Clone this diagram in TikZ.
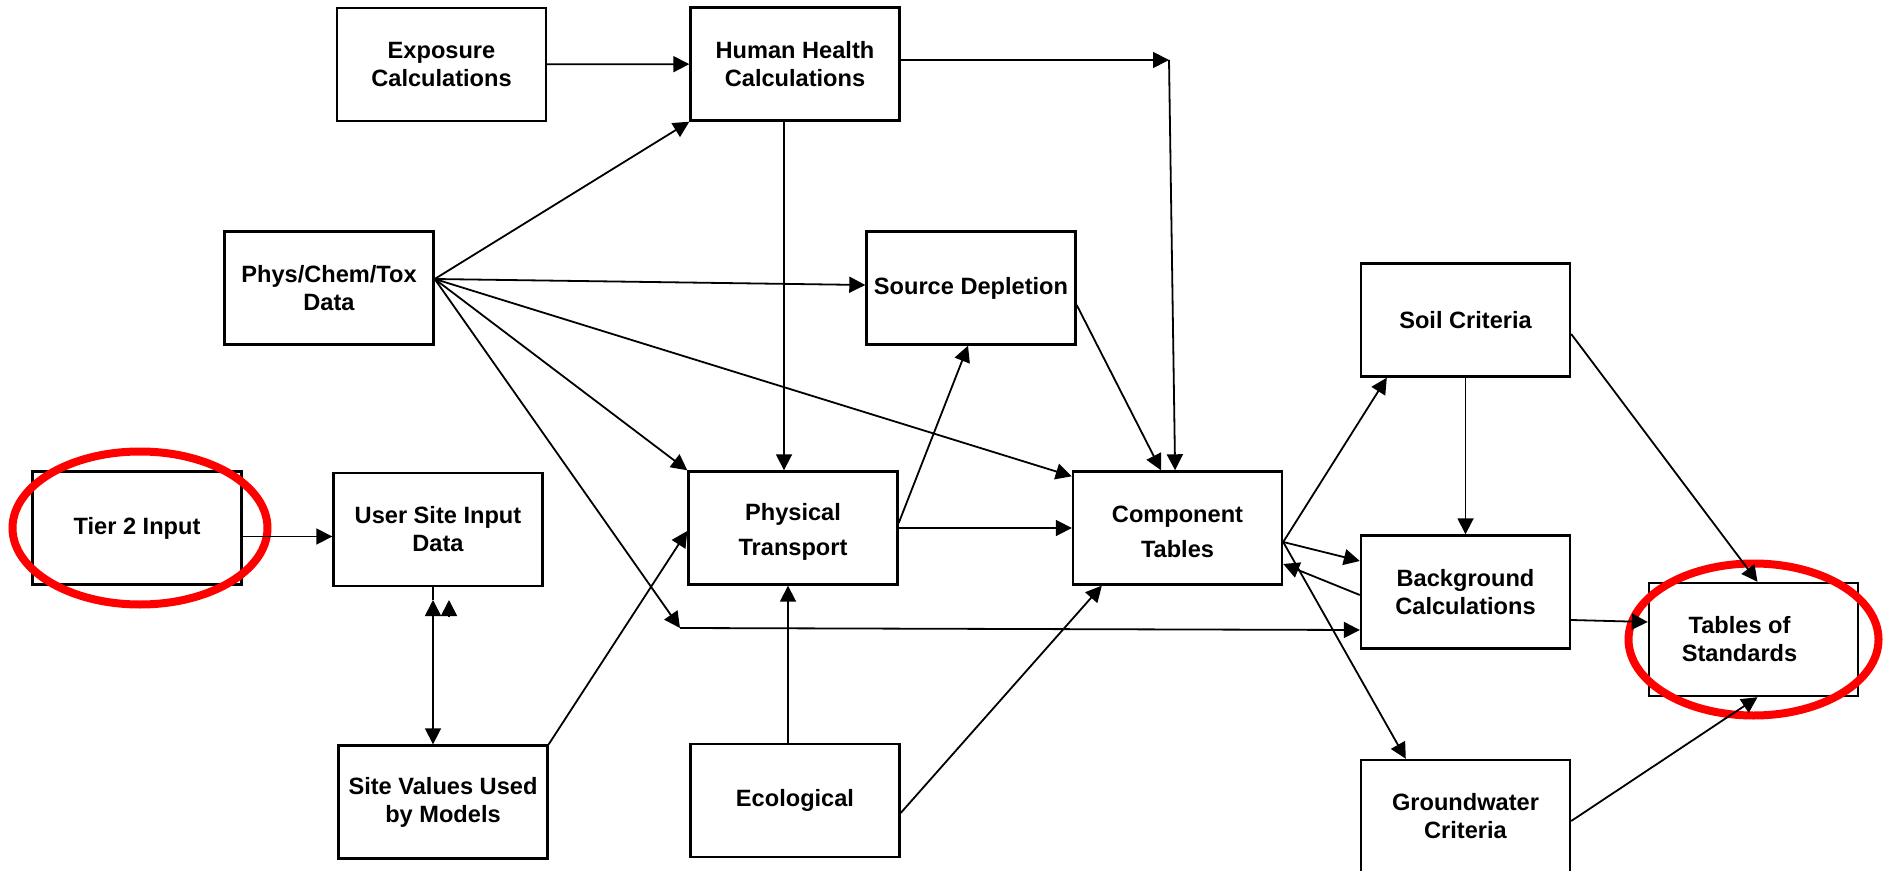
\documentclass[tikz,border=0pt]{standalone}
\usepackage{fontspec}
\setmainfont{Liberation Sans}
\usepackage{tikz}
\usetikzlibrary{arrows.meta}

\begin{document}
\begin{tikzpicture}[x=0.5pt, y=-0.5pt, line width = 0.9pt,
  >={Triangle[length=8pt,width=8pt]},
  box/.style={draw, line width=1.2pt, minimum width=104.5pt, minimum height=56.5pt,
    inner sep=0pt, align=center, font=\fontsize{11.8}{14}\selectfont\bfseries},
  tallbox/.style={box, font=\fontsize{11.8}{17.5}\selectfont\bfseries},
  ring/.style={red, line width=4pt}]

\useasboundingbox (0,0) rectangle (1883,871);

\node [box] (expo) at (441.5,64.5) {Exposure\\Calculations};
\node [box] (hhc) at (795,64) {Human Health\\Calculations};
\node [box] (pct) at (329,288) {Phys/Chem/Tox\\Data};
\node [box] (srcdep) at (971,288) {Source Depletion};
\node [box] (soil) at (1465.5,320) {Soil Criteria};
\node [box] (tier) at (137,528) {Tier 2 Input};
\node [box] (usid) at (438,529.5) {User Site Input\\Data};
\node [tallbox] (phys) at (793,528) {\rule{0pt}{12pt}Physical\\Transport};
\node [tallbox] (comp) at (1177.5,528) {\rule{0pt}{12pt}Component\\Tables};
\node [box] (bkg) at (1465.5,592) {Background\\Calculations};
\node [box] (tos) at (1753.5,639.5) {Tables of\hspace*{14pt}\\Standards\hspace*{14pt}};
\node [box] (svum) at (443,802) {Site Values Used\\by Models};
\node [box] (eco) at (795,800.5) {Ecological};
\node [box] (gw) at (1465.5,816.5) {Groundwater\\Criteria};

\draw [ring] ([xshift=1.5pt]tier.center) ellipse [x radius=63.75pt, y radius=38.25pt];
\draw [ring] (tos.center) ellipse [x radius=62.5pt, y radius=38pt];

\coordinate (hhcbend) at (1169,60);
\coordinate (pctbend) at (680,628);
\coordinate (usidtip) at (433,600);
\coordinate (usidtick) at (449,600);

\draw [->] (expo) -- (hhc);
\draw [->] ([yshift=2pt]hhc.east) -- (hhcbend);
\draw [->] (hhcbend) -- ([xshift=-1.2pt]comp.north);
\draw [->] ([xshift=-5.5pt]hhc.south) -- ([xshift=-4.5pt]phys.north);

\draw [->] ([yshift=4.5pt]pct.east) -- (hhc.south west);
\draw [->] ([yshift=4.5pt]pct.east) -- ([yshift=1.5pt]srcdep.west);
\draw [->] ([yshift=4.5pt]pct.east) -- ([yshift=-3pt]comp.north west);
\draw [->] ([yshift=4.5pt]pct.east) -- (phys.north west);
\draw [->] ([yshift=4.5pt]pct.east) -- (pctbend);
\draw [->] (pctbend) -- ([yshift=-19pt]bkg.west);

\draw [->] ([yshift=-8.5pt]srcdep.east) -- ([xshift=-8.25pt]comp.north);
\draw [->] ([yshift=2.5pt]phys.east) -- ([xshift=-1.5pt]srcdep.south);
\draw [->] (phys.east) -- (comp.west);

\draw [->] ([yshift=-4.25pt]tier.east) -- ([yshift=-3.5pt]usid.west);
\draw ([xshift=-2.5pt]usid.south) -- (usidtip);
\draw [<->] (usidtip) -- ([xshift=-5pt]svum.north);
\draw [->] ([yshift=-8.5pt]usidtick) -- (usidtick);
\draw [->] (svum.north east) -- ([yshift=-1.5pt]phys.west);

\draw [->] ([xshift=-3.5pt]eco.north) -- ([xshift=-2.5pt]phys.south);
\draw [->] ([yshift=-6.25pt]eco.east) -- ([xshift=15pt]comp.south west);

\draw [->] ([yshift=-7pt]comp.east) -- ([xshift=13.5pt]soil.south west);
\draw [->] ([yshift=-7pt]comp.east) -- ([yshift=15.5pt]bkg.west);
\draw [->] ([yshift=-1.5pt]bkg.west) -- ([yshift=-18pt]comp.east);
\draw [->] ([yshift=-7pt]comp.east) -- ([xshift=23pt]gw.north west);

\draw [->] (soil.south) -- (bkg.north);
\draw [->] ([yshift=-7pt]soil.east) -- ([xshift=2pt]tos.north);
\draw [->] ([yshift=-14pt]bkg.east) -- ([yshift=8.75pt]tos.west);
\draw [->] ([yshift=-2.25pt]gw.east) -- ([xshift=2pt]tos.south);

\end{tikzpicture}
\end{document}
